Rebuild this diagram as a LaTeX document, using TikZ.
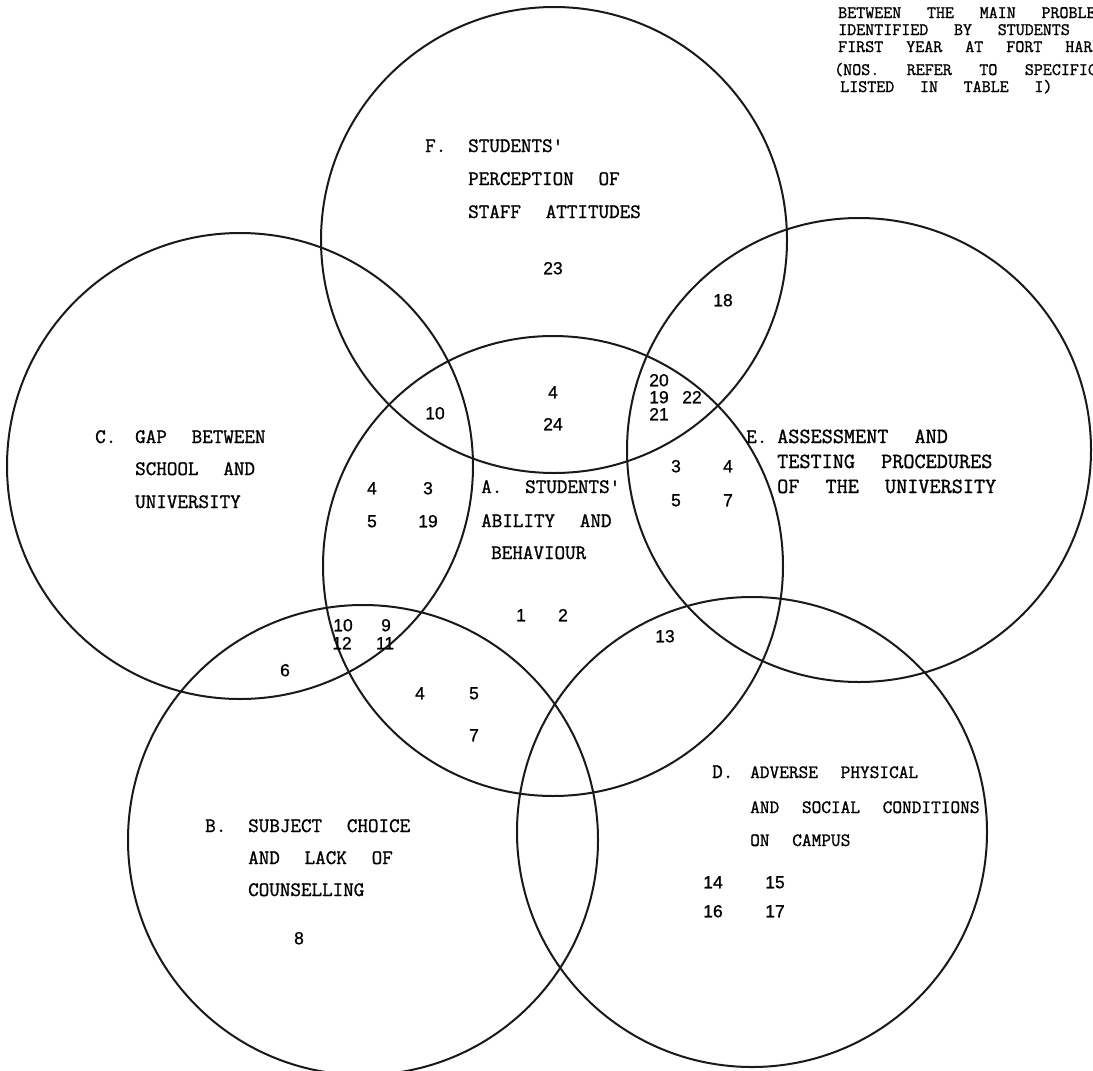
\documentclass[tikz,border=0pt]{standalone}
\usepackage{fontspec}
\newfontfamily\tw[FakeBold=1.2]{Latin Modern Mono}
\newfontfamily\dg[FakeBold=0.8]{Liberation Sans}
\newcommand\wsp[1]{\spaceskip #1pt\relax}
\begin{document}
\begin{tikzpicture}[x=1pt,y=-1pt,
  ring/.style={draw=black!90,line width=2pt,circle,inner sep=0pt,outer sep=0pt},
  lab/.style={anchor=west,inner sep=0pt,font={\tw\fontsize{20.5}{22}\selectfont\wsp{24.8}},text height=12pt,text depth=0pt},
  labe/.style={lab,font={\tw\fontsize{21.6}{24}\selectfont\wsp{26.1}}},
  labd/.style={lab,font={\tw\fontsize{18.8}{21}\selectfont\wsp{22.7}}},
  ttl/.style={anchor=west,inner sep=0pt,font={\tw\fontsize{17.5}{19}\selectfont\wsp{25.7}},text height=10pt,text depth=0pt},
  ttln/.style={ttl,font={\tw\fontsize{17.5}{19}\selectfont\wsp{23}}},
  ttlw/.style={ttl,font={\tw\fontsize{17.5}{19}\selectfont\wsp{27.5}}},
  num/.style={inner sep=0pt,font={\dg\fontsize{17.5}{19}\selectfont},text height=12.5pt,text depth=0pt}]
\path[fill=white] (0,0) rectangle (1093,1071);
\useasboundingbox (0,0) rectangle (1093,1071);
\clip (0,0) rectangle (1093,1071);
% circles
\node[ring,minimum size=466pt] (F) at (554,240) {};
\node[ring,minimum size=460pt] (A) at (553,566) {};
\node[ring,minimum size=466pt] (C) at (240,466) {};
\node[ring,minimum size=464pt] (E) at (859,450) {};
\node[ring,minimum size=470pt] (B) at (363,840) {};
\node[ring,minimum size=470pt] (D) at (752,832) {};
% title
\node[ttl] (t1) at (838,13) {BETWEEN THE MAIN PROBLEMS};
\node[ttl] (t2) at (838,30) {IDENTIFIED BY STUDENTS};
\node[ttln] (t3) at (838,47) {FIRST YEAR AT FORT HARE};
\node[ttlw] (t4) at (834,70) {(NOS. REFER TO SPECIFIC};
\node[ttl] (t5) at (840,87) {LISTED IN TABLE I)};
% F
\node[lab] (fl) at (425,146) {F.};
\node[lab] (f1) at (468,146) {STUDENTS'};
\node[lab] (f2) at (468,179) {PERCEPTION OF};
\node[lab] (f3) at (468,212) {STAFF ATTITUDES};
\node[num] (n23) at (553,268) {23};
\node[num] (n18) at (723,300) {18};
% A-F
\node[num] (af4) at (553,392) {4};
\node[num] (af24) at (553,424) {24};
\node[num] (acf10) at (435,413) {10};
% A-E-F
\node[num] (aef20) at (659,380) {20};
\node[num] (aef19) at (659,397) {19};
\node[num] (aef21) at (659,414) {21};
\node[num] (aef22) at (692,397) {22};
% E
\node[lab] (el) at (746,437) {E.};
\node[labe] (e1) at (777,437) {ASSESSMENT AND};
\node[labe] (e2) at (777,462) {TESTING PROCEDURES};
\node[labe] (e3) at (777,487) {OF THE UNIVERSITY};
% C
\node[lab] (cl) at (95,437) {C.};
\node[lab] (c1) at (135,437) {GAP BETWEEN};
\node[lab] (c2) at (135,469) {SCHOOL AND};
\node[lab] (c3) at (135,502) {UNIVERSITY};
% A-C
\node[num] (ac4) at (372,488) {4};
\node[num] (ac3) at (428,488) {3};
\node[num] (ac5) at (372,521) {5};
\node[num] (ac19) at (428,521) {19};
% A
\node[lab] (al) at (481,487) {A.};
\node[lab] (a1) at (525,487) {STUDENTS'};
\node[lab] (a2) at (481,521) {ABILITY AND};
\node[lab] (a3) at (491,553) {BEHAVIOUR};
\node[num] (a1n) at (521,615) {1};
\node[num] (a2n) at (563,615) {2};
% A-E
\node[num] (ae3) at (676,466) {3};
\node[num] (ae4) at (728,466) {4};
\node[num] (ae5) at (676,500) {5};
\node[num] (ae7) at (728,500) {7};
% A-B-C
\node[num] (abc10) at (343,625) {10};
\node[num] (abc9) at (386,625) {9};
\node[num] (abc12) at (342,643) {12};
\node[num] (abc11) at (385,643) {11};
\node[num] (bc6) at (285,670) {6};
% A-B
\node[num] (ab4) at (420,693) {4};
\node[num] (ab5) at (474,693) {5};
\node[num] (ab7) at (474,735) {7};
% A-D
\node[num] (ad13) at (665,636) {13};
% D
\node[lab] (dl) at (712,772) {D.};
\node[labd] (d1) at (750,772) {ADVERSE PHYSICAL};
\node[labd] (d2) at (750,807) {AND SOCIAL CONDITIONS};
\node[labd] (d3) at (750,840) {ON CAMPUS};
\node[num] (d14) at (713,882) {14};
\node[num] (d15) at (775,882) {15};
\node[num] (d16) at (713,911) {16};
\node[num] (d17) at (775,911) {17};
% B
\node[lab] (bl) at (205,826) {B.};
\node[lab] (b1) at (248,826) {SUBJECT CHOICE};
\node[lab] (b2) at (248,858) {AND LACK OF};
\node[lab] (b3) at (248,890) {COUNSELLING};
\node[num] (b8) at (299,938) {8};
\end{tikzpicture}
\end{document}
